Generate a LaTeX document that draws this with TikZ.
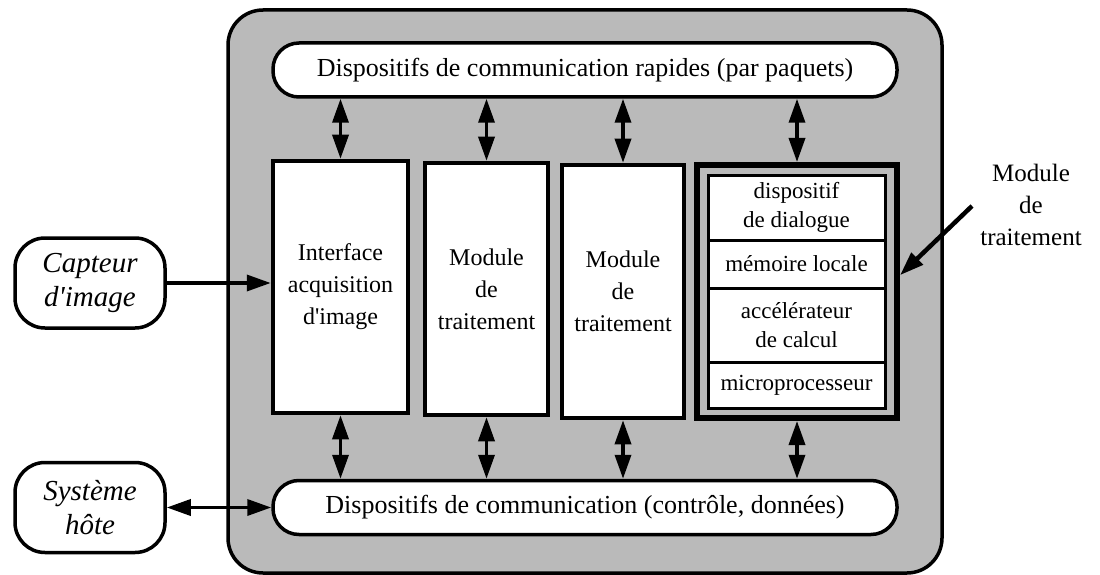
\documentclass[tikz,border=0pt]{standalone}
\usepackage{fontspec}
\setmainfont{Liberation Serif}
\usetikzlibrary{arrows.meta,positioning}

\tikzset{
  >={Triangle[length=24pt,width=16pt]},
  box/.style={draw, line width=4.5pt, fill=white, inner sep=0pt, align=center, font=\fontsize{24}{32}\selectfont},
  bus/.style={draw, line width=3.5pt, fill=white, rounded corners=26pt, minimum width=624pt, minimum height=54pt, font=\fontsize{26}{30}\selectfont},
  ext/.style={draw, line width=3.5pt, fill=white, rounded corners=30pt, minimum width=150pt, minimum height=90pt, align=center, font=\fontsize{29}{34}\selectfont\itshape},
  cell/.style={draw, line width=3pt, fill=white, minimum width=177pt, inner sep=0pt, outer sep=0pt, align=center, font=\fontsize{23}{29}\selectfont},
  link/.style={line width=3.5pt, <->},
}

\begin{document}
\begin{tikzpicture}[x=1pt, y=-1pt]
\useasboundingbox (0,0) rectangle (1100,575);

% cadre de la machine
\node[draw, line width=3.5pt, fill=black!27, rounded corners=35pt, minimum width=714pt, minimum height=563pt] (frame) at (585,291.5) {};

% bus
\node[bus] (topbus) at (585,70) {Dispositifs de communication rapides (par paquets)};
\node[bus] (botbus) at (585,507.5) {Dispositifs de communication (contr\^ole, donn\'ees)};

% modules
\node[box, minimum width=135pt, minimum height=252pt] (iface) at (340.5,287) {Interface\\acquisition\\d\textquotesingle image};
\node[box, minimum width=123pt, minimum height=252pt] (mod1) at (486.5,289) {Module\\de\\traitement};
\node[box, minimum width=122pt, minimum height=253pt] (mod2) at (623,291.5) {Module\\de\\traitement};
\node[draw, line width=6pt, fill=black!27, minimum width=200pt, minimum height=253pt] (comp) at (797,291.5) {};

% detail du module
\node[cell, minimum height=65pt] (row1) at (796.5,207.5) {dispositif\\de dialogue};
\node[cell, minimum height=48pt] (row2) [below=0pt of row1] {m\'emoire locale};
\node[cell, minimum height=74pt] (row3) [below=0pt of row2] {acc\'el\'erateur\\de calcul};
\node[cell, minimum height=46pt] (row4) [below=0pt of row3] {microprocesseur};

% exterieur
\node[ext] (cap) at (90,283) {Capteur\\d\textquotesingle image};
\node[ext] (host) at (90,507.5) {Syst\`eme\\h\^ote};
\node[font=\fontsize{25}{32}\selectfont, align=center] (lbl) at (1031,205) {Module\\de\\traitement};
\coordinate (lbltail) at (972,206);

\foreach \m in {iface,mod1,mod2,comp} {
  \draw[link] (topbus.south -| \m) -- (\m.north);
  \draw[link] (\m.south) -- (botbus.north -| \m);
}
\draw[line width=3.5pt, ->] (cap.east) -- (cap.east -| iface.west);
\draw[link] (host.east) -- (botbus.west);
\draw[line width=4.5pt, ->] (lbltail) -- (comp.9);
\end{tikzpicture}
\end{document}
